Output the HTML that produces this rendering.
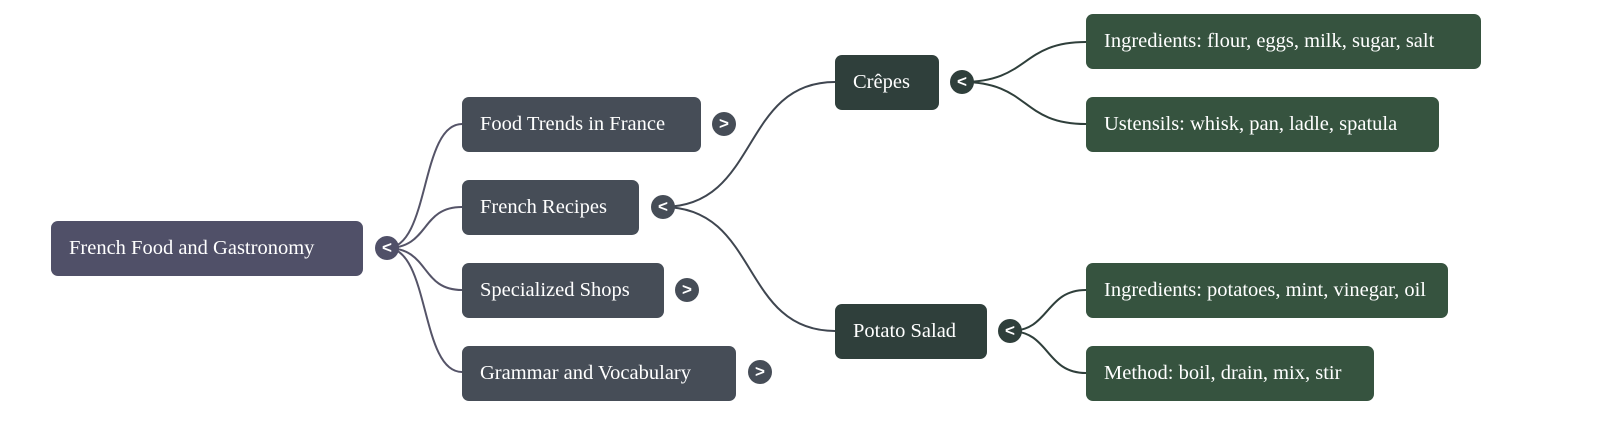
<!DOCTYPE html>
<html><head><style>
body{margin:0;background:#fff;width:1600px;height:423px;overflow:hidden;position:relative;font-family:"Liberation Serif",serif;}
.n{position:absolute;height:55px;border-radius:7px;color:#fff;font-size:20.5px;line-height:55px;padding-left:18px;box-sizing:border-box;white-space:nowrap;}
.t{position:absolute;width:24px;height:24px;border-radius:50%;color:#fff;font-family:"Liberation Sans",sans-serif;font-weight:bold;font-size:17px;line-height:23px;text-align:center;}
svg{position:absolute;left:0;top:0}
</style></head><body>
<svg width="1600" height="423" fill="none" stroke-width="2">
<g stroke="#555468">
<path d="M387,248 C430,248 420,124 462,124"/>
<path d="M387,248 C430,248 420,207 462,207"/>
<path d="M387,248 C430,248 420,290 462,290"/>
<path d="M387,248 C430,248 420,372 462,372"/>
</g>
<g stroke="#3f4650">
<path d="M663,207 C760,207 740,82 835,82"/>
<path d="M663,207 C760,207 740,331 835,331"/>
</g>
<g stroke="#2f3f3b">
<path d="M962,82 C1030,82 1020,42 1086,42"/>
<path d="M962,82 C1030,82 1020,124 1086,124"/>
<path d="M1010,331 C1050,331 1045,290 1086,290"/>
<path d="M1010,331 C1050,331 1045,373 1086,373"/>
</g>
</svg>
<div class="n" style="left:51px;top:221px;width:312px;background:#505068">French Food and Gastronomy</div>
<div class="t" style="left:375px;top:236px;background:#505068">&lt;</div>
<div class="n" style="left:462px;top:97px;width:239px;background:#464d57">Food Trends in France</div>
<div class="t" style="left:712px;top:112px;background:#464d57">&gt;</div>
<div class="n" style="left:462px;top:180px;width:177px;background:#464d57">French Recipes</div>
<div class="t" style="left:651px;top:195px;background:#464d57">&lt;</div>
<div class="n" style="left:462px;top:263px;width:202px;background:#464d57">Specialized Shops</div>
<div class="t" style="left:675px;top:278px;background:#464d57">&gt;</div>
<div class="n" style="left:462px;top:346px;width:274px;background:#464d57">Grammar and Vocabulary</div>
<div class="t" style="left:748px;top:360px;background:#464d57">&gt;</div>
<div class="n" style="left:835px;top:55px;width:104px;background:#2f3f3b">Crêpes</div>
<div class="t" style="left:950px;top:70px;background:#2f3f3b">&lt;</div>
<div class="n" style="left:835px;top:304px;width:152px;background:#2f3f3b">Potato Salad</div>
<div class="t" style="left:998px;top:319px;background:#2f3f3b">&lt;</div>
<div class="n" style="left:1086px;top:14px;width:395px;background:#36533f">Ingredients: flour, eggs, milk, sugar, salt</div>
<div class="n" style="left:1086px;top:97px;width:353px;background:#36533f">Ustensils: whisk, pan, ladle, spatula</div>
<div class="n" style="left:1086px;top:263px;width:362px;background:#36533f">Ingredients: potatoes, mint, vinegar, oil</div>
<div class="n" style="left:1086px;top:346px;width:288px;background:#36533f">Method: boil, drain, mix, stir</div>
</body></html>
